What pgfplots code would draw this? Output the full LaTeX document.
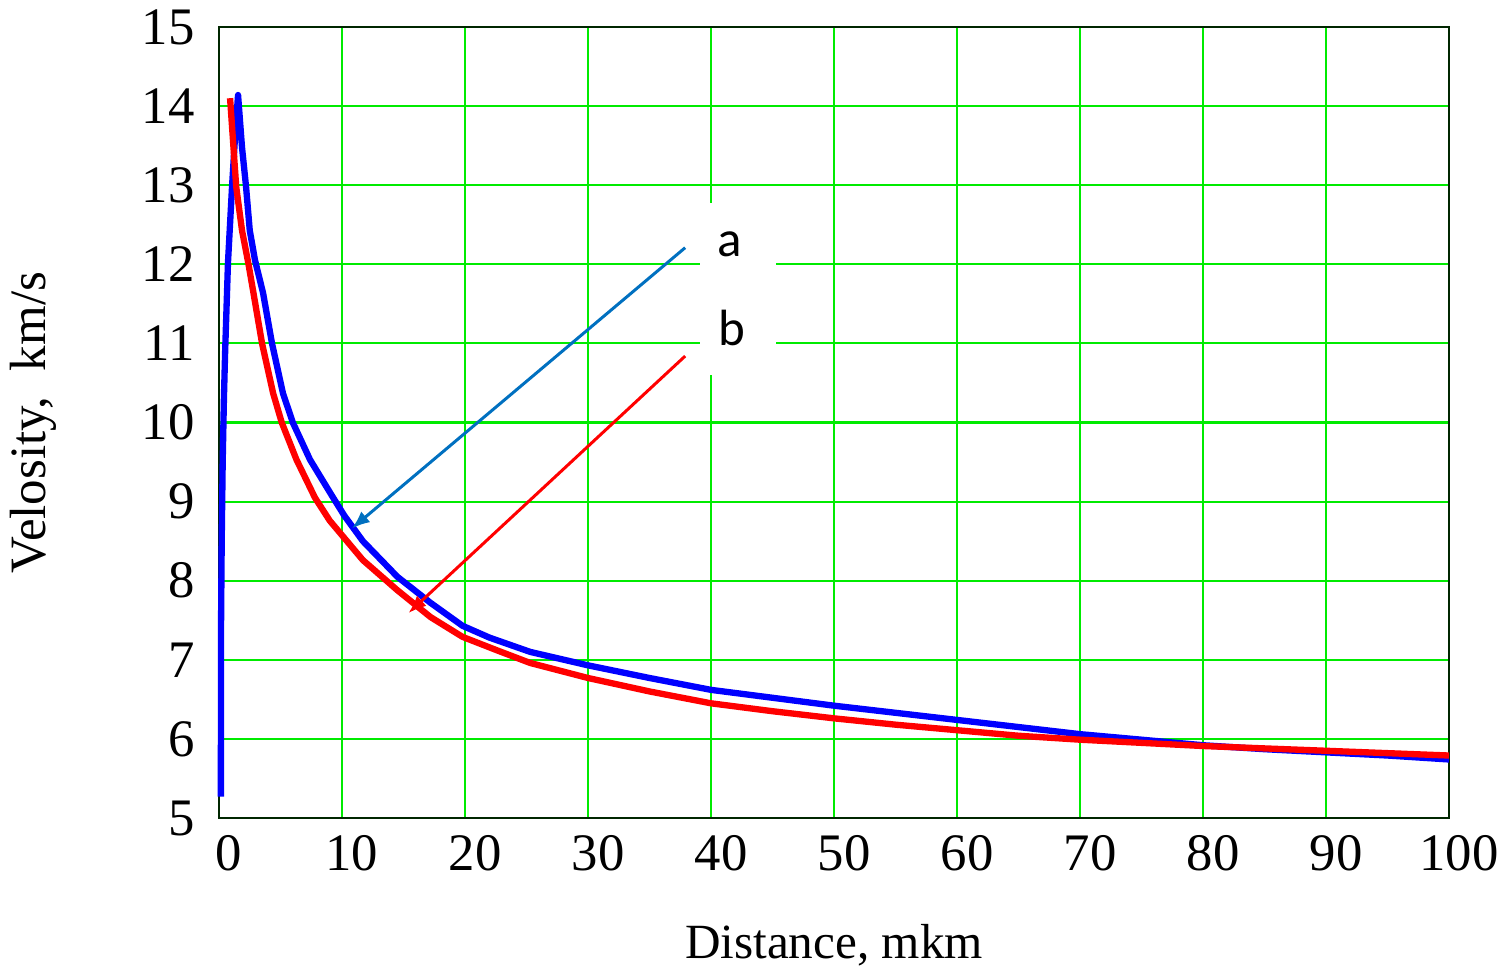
\documentclass[border=0pt]{standalone}
\usepackage{fontspec}
\setmainfont{Liberation Serif}
\newfontfamily\calibri{Carlito}
\usepackage{pgfplots}
\pgfplotsset{compat=1.18}
\usetikzlibrary{arrows.meta}
\definecolor{gridgreen}{RGB}{0,235,0}
\definecolor{arrowblue}{RGB}{0,112,192}
\begin{document}
\begin{tikzpicture}
\begin{axis}[
    width=123mm, height=79.1mm,
    scale only axis,
    xmin=0, xmax=100, ymin=5, ymax=15,
    xtick={0,10,...,100}, ytick={5,6,...,15},
    grid=major,
    major grid style={draw=gridgreen, line width=0.6pt},
    major tick length=0pt,
    axis line style={draw=black!85!green, line width=0.6pt},
    tick label style={font=\fontsize{15}{18}\selectfont, inner sep=0.5pt},
    /pgf/number format/assume math mode=true,
    xticklabel style={yshift=-1.5mm, xshift=1mm},
    yticklabel style={xshift=-2.2mm},
    clip=false,
]
% curve a (blue)
\addplot[blue, line width=1.8pt, line join=round] coordinates {
(0.15,5.27) (0.17,7.5) (0.22,8.5) (0.3,9.5) (0.4,10.3) (0.5,10.9) (0.73,12.02)
(1.06,12.98) (1.3,13.6) (1.55,14.14) (1.87,13.48) (2.2,12.98) (2.5,12.43)
(2.93,12.05) (3.58,11.64) (4.31,11.0) (5.2,10.37) (6.0,10.0) (7.4,9.53)
(9.2,9.07) (10.2,8.82) (11.7,8.5) (14.5,8.05) (17.2,7.72) (19.8,7.43)
(22,7.28) (25.3,7.1) (30,6.93) (35,6.77) (40,6.62) (45,6.52) (50,6.42)
(55,6.33) (60,6.24) (65,6.15) (70,6.06) (75,5.99) (80,5.92) (85,5.87)
(90,5.83) (95,5.79) (100,5.74)
};
% curve b (red)
\addplot[red, line width=1.8pt, line join=round] coordinates {
(0.9,14.1) (1.4,12.98) (1.87,12.43) (2.4,12.0) (2.8,11.64) (3.5,11.0)
(4.4,10.37) (5.1,10.0) (6.3,9.53) (7.8,9.05) (9.0,8.76) (11.7,8.26)
(14.5,7.88) (17.2,7.54) (19.8,7.29) (22.6,7.12) (25.3,6.96) (30,6.77)
(35,6.6) (40,6.45) (45,6.35) (50,6.26) (55,6.18) (60,6.11) (65,6.04)
(70,5.99) (75,5.95) (80,5.91) (85,5.88) (90,5.85) (95,5.82) (100,5.79)
};
% labels a, b with arrows
\fill[white] (axis cs:39.1,10.6) rectangle (axis cs:45.3,12.78);
\node[font=\calibri\fontsize{14.5}{17}\selectfont] at (axis cs:41.5,12.25) {a};
\node[font=\calibri\fontsize{14.5}{17}\selectfont] at (axis cs:41.7,11.2) {b};
\draw[arrowblue, line width=0.85pt, -{Latex[length=1.8mm,width=1.4mm]}]
    (axis cs:37.9,12.21) -- (axis cs:10.8,8.66);
\draw[red, line width=0.85pt, -{Latex[length=1.8mm,width=1.4mm]}]
    (axis cs:37.9,10.84) -- (axis cs:15.4,7.59);
% axis titles
\node[rotate=90, inner sep=0pt, font=\fontsize{14.5}{17}\selectfont]
    at ([xshift=-18.6mm]axis description cs:0,0.5) {Velosity,\ \ km/s};
\node[inner sep=0pt, font=\fontsize{14}{17}\selectfont]
    at ([yshift=-12.7mm]axis description cs:0.5,0) {Distance, mkm};
% page size as in the reference
\path ([xshift=-21.9mm,yshift=-15.2mm]axis description cs:0,0)
    rectangle ([xshift=5.6mm,yshift=2.7mm]axis description cs:1,1);
\end{axis}
\end{tikzpicture}
\end{document}
